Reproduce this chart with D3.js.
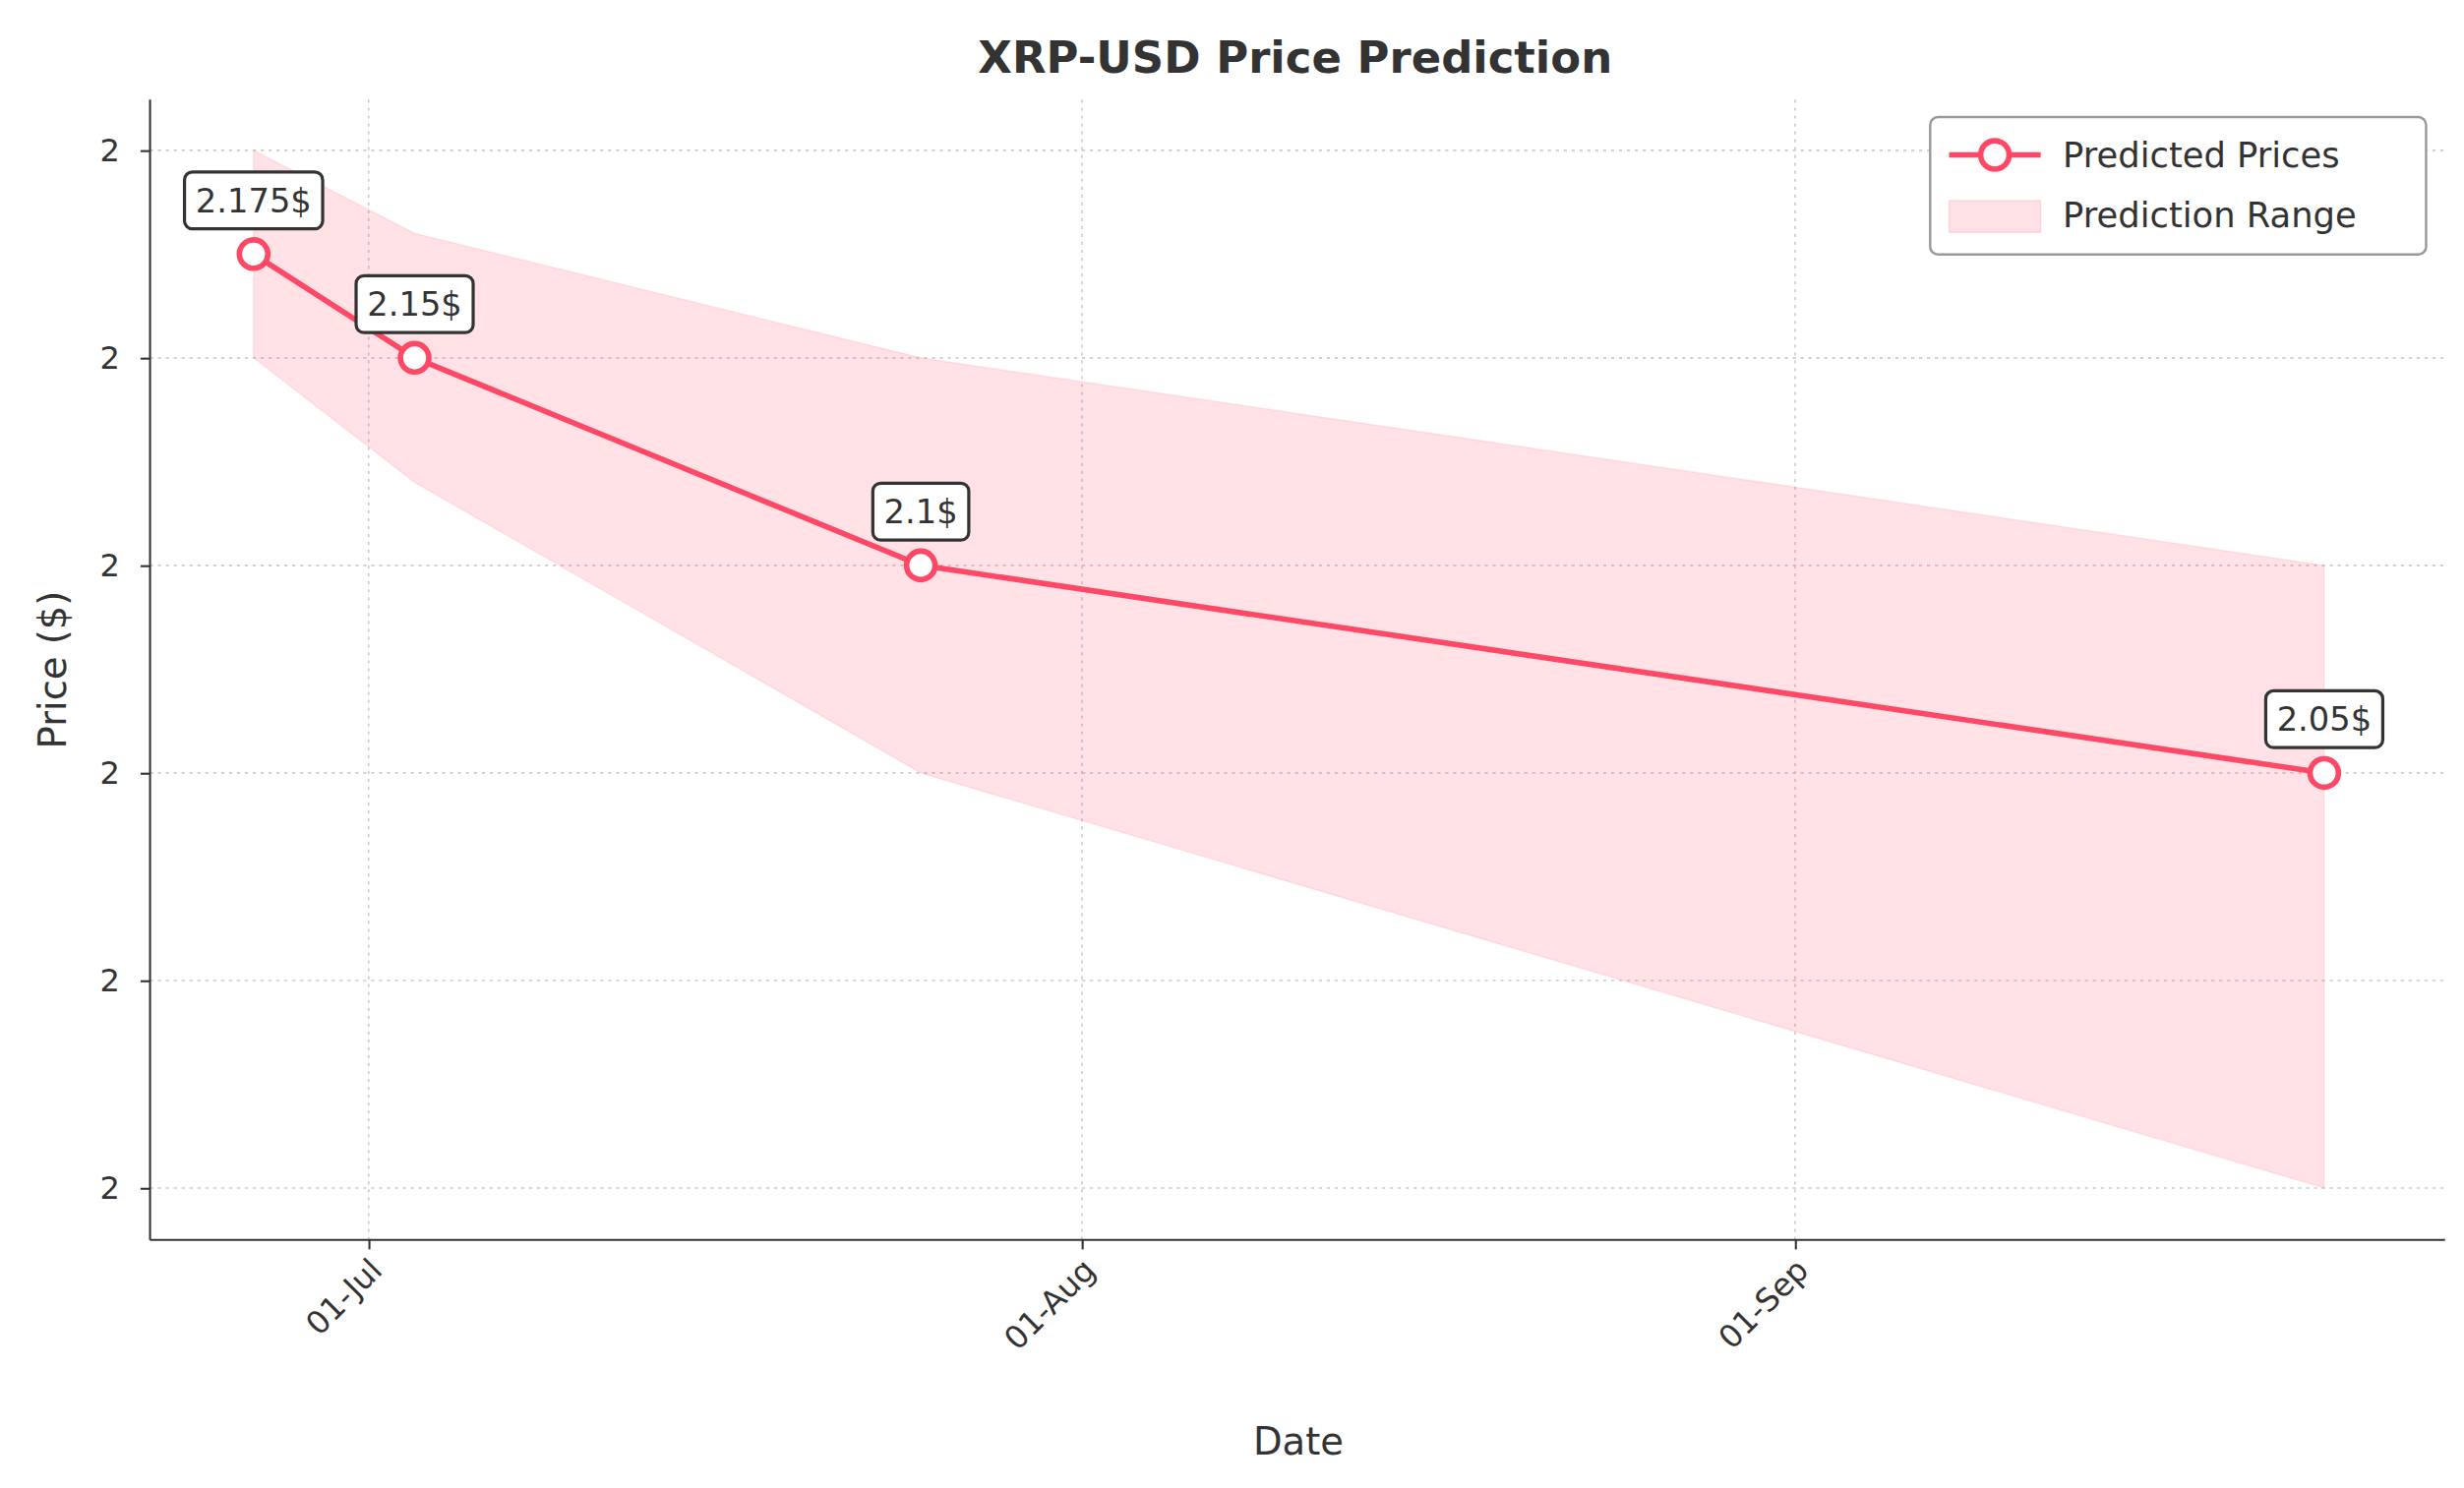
<!DOCTYPE html>
<html><head><meta charset="utf-8">
<script src="https://cdn.jsdelivr.net/npm/d3@7"></script>
<style>body{margin:0;background:#fff}text{font-family:"DejaVu Sans",sans-serif;fill:#333}</style>
</head><body><div id="chart"></div>
<script>
const dates = ["2025-06-26", "2025-07-03", "2025-07-25", "2025-09-24"];
const predicted = [2.175, 2.15, 2.1, 2.05];
const upper = [2.2, 2.18, 2.15, 2.1];
const lower = [2.15, 2.12, 2.05, 1.95];
const labels = ["2.175$", "2.15$", "2.1$", "2.05$"];
const yTicks = [1.95, 2.0, 2.05, 2.1, 2.15, 2.2];
const xTicks = ["2025-07-01", "2025-08-01", "2025-09-01"];

const W = 1560, H = 942;
const m = {left: 95, right: 12, top: 63, bottom: 157};
const parse = d3.timeParse("%Y-%m-%d");
const data = dates.map((d, i) => ({date: parse(d), p: predicted[i], hi: upper[i], lo: lower[i], label: labels[i]}));

const svg = d3.select("#chart").append("svg")
	.attr("width", 2505).attr("height", 1513)
	.attr("viewBox", `0 0 ${W} ${H}`);

const x = d3.scaleTime()
	.domain([new Date(2025, 5, 21, 12), new Date(2025, 8, 29, 6)])
	.range([m.left, W - m.right]);
const y = d3.scaleLinear()
	.domain([1.9375, 2.2122])
	.range([H - m.bottom, m.top]);

// grid
svg.append("g").selectAll("line.v").data(xTicks).enter().append("line")
	.attr("x1", d => x(parse(d))).attr("x2", d => x(parse(d)))
	.attr("y1", m.top).attr("y2", H - m.bottom)
	.attr("stroke", "#ccc").attr("stroke-dasharray", "2,3");
svg.append("g").selectAll("line.h").data(yTicks).enter().append("line")
	.attr("x1", m.left).attr("x2", W - m.right)
	.attr("y1", d => y(d)).attr("y2", d => y(d))
	.attr("stroke", "#ccc").attr("stroke-dasharray", "2,3");

// band
svg.append("path").datum(data)
	.attr("d", d3.area().x(d => x(d.date)).y0(d => y(d.lo)).y1(d => y(d.hi)))
	.attr("fill", "#ff4d6d").attr("fill-opacity", 0.17)
	.attr("stroke", "#ff4d6d").attr("stroke-opacity", 0.1);

// line
svg.append("path").datum(data)
	.attr("d", d3.line().x(d => x(d.date)).y(d => y(d.p)))
	.attr("fill", "none").attr("stroke", "#ff4766").attr("stroke-width", 3.5);
svg.selectAll("circle.pt").data(data).enter().append("circle")
	.attr("cx", d => x(d.date)).attr("cy", d => y(d.p)).attr("r", 9)
	.attr("fill", "#fff").attr("stroke", "#ff4766").attr("stroke-width", 3.5);

// annotations
data.forEach(d => {
	const g = svg.append("g").attr("transform", `translate(${x(d.date)},${y(d.p) - 34})`);
	const t = g.append("text").attr("text-anchor", "middle").attr("dy", "0.35em")
		.attr("font-size", 21).text(d.label);
	const w = t.node().getComputedTextLength() + 14;
	g.insert("rect", "text").attr("x", -w / 2).attr("y", -18).attr("width", w).attr("height", 36)
		.attr("rx", 5).attr("fill", "#fff").attr("stroke", "#333").attr("stroke-width", 2);
});

// axes
const xa = svg.append("g").attr("transform", `translate(0,${H - m.bottom})`)
	.call(d3.axisBottom(x).tickValues(xTicks.map(parse)).tickFormat(d3.timeFormat("%d-%b")).tickSize(6));
xa.selectAll("text").attr("font-size", 20).attr("text-anchor", "end")
	.attr("transform", "rotate(-45)").attr("dx", "-0.4em").attr("dy", "0.6em");
const ya = svg.append("g").attr("transform", `translate(${m.left},0)`)
	.call(d3.axisLeft(y).tickValues(yTicks).tickFormat(d3.format(".0f")).tickSize(6));
ya.selectAll("text").attr("font-size", 20).attr("dx", "-0.5em");
svg.selectAll(".domain, .tick line").attr("stroke", "#333").attr("stroke-width", 1.3);
xa.select(".domain").attr("d", `M${m.left},0H${W - m.right}`);
ya.select(".domain").attr("d", `M0,${m.top}V${H - m.bottom}`);

// titles
svg.append("text").attr("x", 820).attr("y", 46).attr("text-anchor", "middle")
	.attr("font-size", 28).attr("font-weight", "bold").text("XRP-USD Price Prediction");
svg.append("text").attr("x", 822).attr("y", 921).attr("text-anchor", "middle")
	.attr("font-size", 24).text("Date");
svg.append("text").attr("transform", "translate(42,424) rotate(-90)").attr("text-anchor", "middle")
	.attr("font-size", 24).text("Price ($)");

// legend
const lg = svg.append("g").attr("transform", "translate(1222,74)");
lg.append("rect").attr("width", 314).attr("height", 87).attr("rx", 5)
	.attr("fill", "#fff").attr("stroke", "#999").attr("stroke-width", 1.5);
lg.append("line").attr("x1", 12).attr("x2", 70).attr("y1", 24).attr("y2", 24)
	.attr("stroke", "#ff4766").attr("stroke-width", 3.5);
lg.append("circle").attr("cx", 41).attr("cy", 24).attr("r", 9).attr("fill", "#fff")
	.attr("stroke", "#ff4766").attr("stroke-width", 3.5);
lg.append("rect").attr("x", 12).attr("y", 53).attr("width", 58).attr("height", 20)
	.attr("fill", "#ff4d6d").attr("fill-opacity", 0.17).attr("stroke", "#ff4d6d").attr("stroke-opacity", 0.15);
lg.append("text").attr("x", 84).attr("y", 32).attr("font-size", 22).text("Predicted Prices");
lg.append("text").attr("x", 84).attr("y", 70).attr("font-size", 22).text("Prediction Range");
</script></body></html>
